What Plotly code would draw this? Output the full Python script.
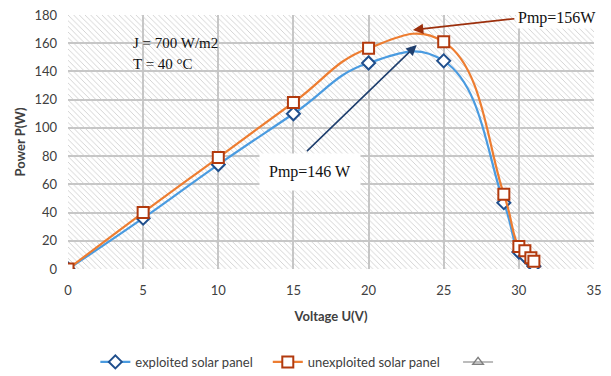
import plotly.graph_objects as go

voltage = [0, 5, 10, 15, 20, 25, 29, 30, 30.4, 30.8, 31]
power_exploited = [0, 36, 74, 110, 146, 147.5, 47, 12, 9, 5, 2]
power_unexploited = [0, 40, 79, 118, 156.5, 161, 53, 16, 13, 8, 5.5]

x_range = [0, 35]
y_range = [0, 180]

serif = "Liberation Serif"
sans = "Lato"
gap = "\u00a0\u00a0\u00a0"

fig = go.Figure()

# hatched plot-area background
fig.add_trace(go.Scatter(
    x=[x_range[0], x_range[1], x_range[1], x_range[0], x_range[0]],
    y=[y_range[0], y_range[0], y_range[1], y_range[1], y_range[0]],
    mode="none", fill="toself", fillcolor="rgba(255,255,255,0)",
    fillpattern=dict(shape="\\", size=4, solidity=0.2, fgcolor="#cacaca", fgopacity=1,
                     bgcolor="rgba(255,255,255,0)", fillmode="replace"),
    hoverinfo="skip", showlegend=False))

fig.add_trace(go.Scatter(
    x=voltage, y=power_exploited, name="exploited solar panel" + gap,
    mode="lines+markers", line=dict(color="#4a9be0", width=2.2, shape="spline", smoothing=1.3),
    marker=dict(symbol="diamond", size=10, color="white", line=dict(color="#1f4e8c", width=2))))
fig.add_trace(go.Scatter(
    x=voltage, y=power_unexploited, name="unexploited solar panel" + gap + "\u00a0",
    mode="lines+markers", line=dict(color="#ed7d31", width=2.2, shape="spline", smoothing=1.3),
    marker=dict(symbol="square", size=11, color="white", line=dict(color="#b23a0e", width=2))))
fig.add_trace(go.Scatter(
    x=[None], y=[None], name=" ", mode="lines+markers",
    line=dict(color="#a6a6a6", width=1.5),
    marker=dict(symbol="triangle-up-open", size=9, color="#7f7f7f", line=dict(width=1.5))))

annos = [
    dict(x=4.2, y=160, text="J = 700 W/m2", showarrow=False, xanchor="left",
         font=dict(family=serif, size=15, color="#111")),
    dict(x=4.2, y=145, text="T = 40 °C", showarrow=False, xanchor="left",
         font=dict(family=serif, size=15, color="#111")),
    dict(x=22.95, y=169.4, ax=29.8, ay=177.5, axref="x", ayref="y", text="",
         showarrow=True, arrowhead=2, arrowsize=1.3, arrowwidth=1.6, arrowcolor="#9c2f0c"),
    dict(x=29.8, y=178, text="Pmp=156W", showarrow=False, xanchor="left",
         font=dict(family=serif, size=16, color="#111"), bgcolor="white"),
    dict(x=23.2, y=158.7, ax=15.8, ay=82.5, axref="x", ayref="y", text="",
         showarrow=True, arrowhead=2, arrowsize=1.3, arrowwidth=1.6, arrowcolor="#1f3f6e"),
    dict(x=16.1, y=68.7, text="Pmp=146 W", showarrow=False,
         font=dict(family=serif, size=16, color="#111"), bgcolor="white",
         borderpad=9),
]

fig.update_layout(
    width=611, height=376,
    margin=dict(l=68, r=17, t=15, b=107, autoexpand=False),
    paper_bgcolor="white", plot_bgcolor="white",
    font=dict(family=sans, size=13, color="#404040"),
    showlegend=True,
    legend=dict(orientation="h", x=0.052, xanchor="left", y=-0.366, yanchor="middle",
                font=dict(family=sans, size=13, color="#404040"),
                itemwidth=30, tracegroupgap=0),
    annotations=annos,
)
fig.update_xaxes(range=x_range, dtick=5, showgrid=True, gridcolor="#c6c6c6", gridwidth=2,
                 zeroline=False, showline=False, ticks="", automargin=False, ticklabelstandoff=12,
                 tickfont=dict(size=13, color="#404040"),
                 title=dict(text="<b>Voltage U(V)</b>", font=dict(size=13, color="#404040"), standoff=14))
fig.update_yaxes(range=y_range, dtick=20, showgrid=True, gridcolor="#c6c6c6", gridwidth=2,
                 zeroline=False, showline=False, ticks="", automargin=False, ticklabelstandoff=10,
                 tickfont=dict(size=13, color="#404040"),
                 title=dict(text="<b>Power P(W)</b>", font=dict(size=13, color="#404040"), standoff=5))

fig.write_html("out.html", config={"displayModeBar": False},
               post_script="document.body.style.margin='0px';")
